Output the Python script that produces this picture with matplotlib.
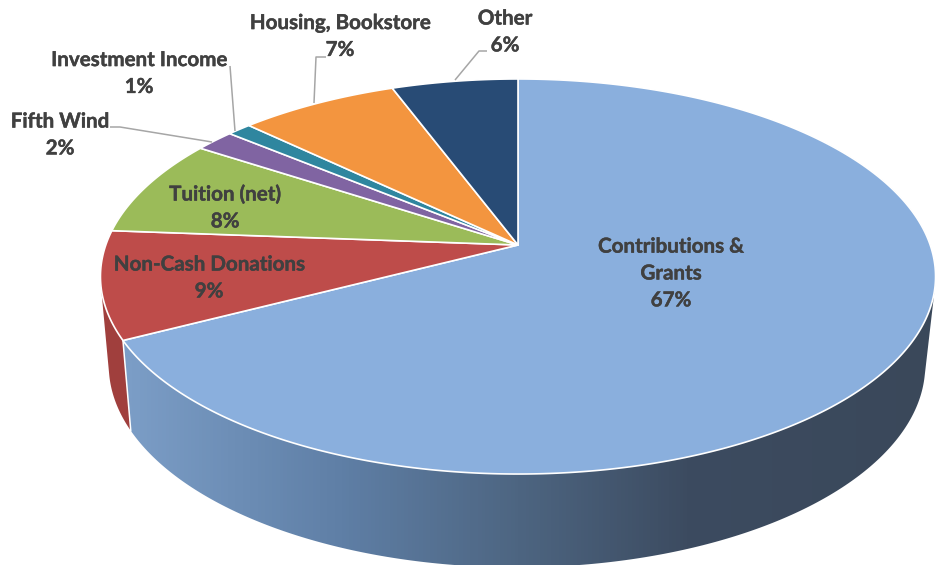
import numpy as np
import matplotlib
matplotlib.use("Agg")
import matplotlib.pyplot as plt
import matplotlib.patheffects as pe
from matplotlib.colors import LinearSegmentedColormap
from matplotlib.patches import Polygon

# ---- data (percent shares, clockwise from 12 o'clock)
categories = ["Contributions &\nGrants", "Non-Cash Donations", "Tuition (net)",
              "Fifth Wind", "Investment Income", "Housing, Bookstore", "Other"]
values = [67.4, 8.8, 8.0, 1.8, 1.1, 7.2, 5.7]

# ---- styles and layout
colors = ["#8AAFDD", "#BE4C4A", "#9BBB59", "#8064A2", "#2F869F", "#F3953F", "#284B75"]
red_wall = "#A03F3D"
wall_stops = [(130, "#7B9DC6"), (340, "#5F7FA6"), (520, "#4D6581"), (690, "#3C4B60"), (941, "#3A485A")]
label_xy = [(671, 273.5), (209, 278), (225, 208), (60, 135), (139, 73.5), (340, 36.5), (505, 32)]
leaders = [
    [(110, 127), (120, 127), (212, 142)],
    [(230, 66), (235, 131)],
    [(326, 57), (316, 57), (314, 103)],
    [(487, 51), (479, 51), (455, 80)],
]
W, H = 941, 565
# projective view of the disc: (x0, y0) centre, A, B scale, k perspective
TOP = dict(x0=518, y0=245, A=412.2, B=192.5, k=0.1595)
BOT = dict(x0=517, y0=333, A=403, B=197, k=0.1595)


def project(theta_frac, x0, y0, A, B, k, radius=1.0):
    t = 2 * np.pi * np.asarray(theta_frac)
    u, v = radius * np.sin(t), radius * np.cos(t)
    d = 1 + k * v
    return np.column_stack([x0 + A * u / d, y0 - B * v / d])


def hull(pts):
    pts = sorted(map(tuple, pts))
    def half(seq):
        out = []
        for p in seq:
            while len(out) > 1 and ((out[-1][0]-out[-2][0])*(p[1]-out[-2][1])
                                    - (out[-1][1]-out[-2][1])*(p[0]-out[-2][0])) <= 0:
                out.pop()
            out.append(p)
        return out[:-1]
    return np.array(half(pts) + half(pts[::-1]))


fig = plt.figure(figsize=(W / 100, H / 100), dpi=100, facecolor="white")
ax = fig.add_axes([0, 0, 1, 1])
ax.axis("off")

fractions = np.array(values) / sum(values)
edges = np.concatenate([[0], np.cumsum(fractions)])
f_blue_end, f_red_end = edges[1], edges[2]

# side wall, red slice
s = np.linspace(f_blue_end, f_red_end, 80)
ax.add_patch(Polygon(hull(np.vstack([project(s, **TOP), project(s, **BOT)])),
                     closed=True, fc=red_wall, ec="none", zorder=1))

# side wall, blue slice with horizontal gradient
s = np.linspace(0.15, f_blue_end, 300)
blue_poly = Polygon(hull(np.vstack([project(s, **TOP), project(s, **BOT)])),
                    closed=True, fc="none", ec="none", transform=ax.transData)
ax.add_patch(blue_poly)
cmap = LinearSegmentedColormap.from_list("wall", [(p / W, c) for p, c in
                                                   [(0, wall_stops[0][1])] + wall_stops])
im = ax.imshow(np.linspace(0, 1, 941)[None, :], cmap=cmap, vmin=0, vmax=1, aspect="auto",
               extent=(0, W, H, 0), zorder=2, interpolation="bilinear")
im.set_clip_path(blue_poly)

# seam between red and blue walls
seam = np.vstack([project([f_blue_end], **TOP), project([f_blue_end], **BOT)])
ax.plot(seam[:, 0], seam[:, 1], color="white", lw=1.1, zorder=3)

# top slices
for a, b, c in zip(edges[:-1], edges[1:], colors):
    s = np.linspace(a, b, max(4, int((b - a) * 720)))
    arc = project(s, **TOP)
    centre = [[TOP["x0"], TOP["y0"]]]
    ax.add_patch(Polygon(np.vstack([centre, arc]), closed=True, fc=c, ec="white",
                         lw=1.2, joinstyle="round", zorder=4))

# leader lines
for line in leaders:
    xy = np.array(line)
    ax.plot(xy[:, 0], xy[:, 1], color="#A6A6A6", lw=1.1, zorder=5, solid_capstyle="butt")

# labels
for name, v, (x, y) in zip(categories, values, label_xy):
    ax.text(x, y, f"{name}\n{v:.0f}%", ha="center", va="center", multialignment="center",
            family="Lato", weight="bold", fontsize=14.8, color="#404040",
            linespacing=1.43, zorder=6,
            path_effects=[pe.withStroke(linewidth=0.3, foreground="#404040")])

ax.set_xlim(0, W)
ax.set_ylim(H, 0)
fig.savefig("out.png", dpi=100, facecolor="white")
